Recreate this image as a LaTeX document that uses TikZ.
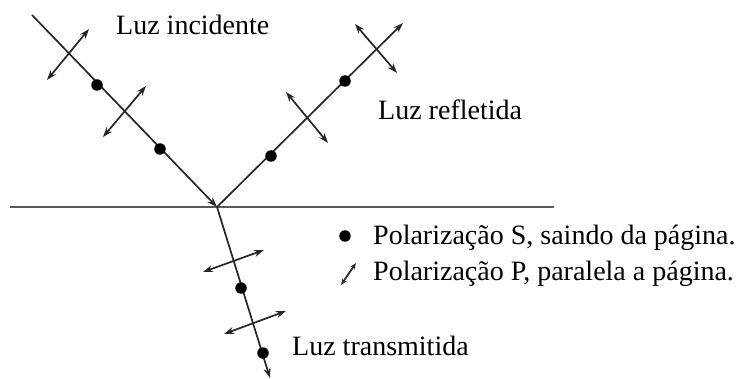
\documentclass[tikz,border=0pt]{standalone}
\usepackage{fontspec}
\setmainfont{Liberation Serif}
\usetikzlibrary{arrows.meta}
\begin{document}
\begin{tikzpicture}[x=1pt,y=-1pt,
  ray/.style={line width=1.7pt, draw=black!85},
  pol/.style={line width=1.7pt, draw=black!85, {Stealth[length=10pt,width=7pt]}-{Stealth[length=10pt,width=7pt]}},
  tip/.style={-{Stealth[length=10pt,width=7pt]}},
  sdot/.style={circle, fill=black, inner sep=0pt, minimum size=11.5pt},
  lbl/.style={font=\fontsize{28}{30}\selectfont, anchor=base west, inner sep=0pt},
  surf/.style={line width=2.4pt, draw=black!65}]
\useasboundingbox (0,0) rectangle (741,379);
% surface
\coordinate (sl) at (10,207);
\coordinate (sr) at (554,207);
\draw[surf] (sl) -- (sr);
% key points
\coordinate (O) at (217,207);
\coordinate (iA) at (32,15);
\coordinate (rB) at (403,23);
\coordinate (tB) at (270,378);
% rays
\draw[ray,tip] (iA) -- (O);
\draw[ray,tip] (O) -- (rB);
\draw[ray,tip] (O) -- (tB);
% S dots
\node[sdot] (i1) at (97,85) {};
\node[sdot] (i2) at (160,149) {};
\node[sdot] (r1) at (345,81) {};
\node[sdot] (r2) at (271,156) {};
\node[sdot] (t1) at (241,288) {};
\node[sdot] (t2) at (263,353) {};
% P arrows
\coordinate (ip1a) at (47,80);   \coordinate (ip1b) at (89,29);
\coordinate (ip2a) at (103,137); \coordinate (ip2b) at (146,86);
\coordinate (rp1a) at (355,24);  \coordinate (rp1b) at (397,73);
\coordinate (rp2a) at (286,92);  \coordinate (rp2b) at (328,143);
\coordinate (tp1a) at (203,272); \coordinate (tp1b) at (264,250);
\coordinate (tp2a) at (224,334); \coordinate (tp2b) at (286,311);
\draw[pol] (ip1a) -- (ip1b);
\draw[pol] (ip2a) -- (ip2b);
\draw[pol] (rp1a) -- (rp1b);
\draw[pol] (rp2a) -- (rp2b);
\draw[pol] (tp1a) -- (tp1b);
\draw[pol] (tp2a) -- (tp2b);
% labels
\node[lbl] (linc) at (116,35) {Luz incidente};
\node[lbl] (lref) at (378,120) {Luz refletida};
\node[lbl] (ltra) at (292,355) {Luz transmitida};
% legend
\node[sdot] (kS) at (345,236) {};
\node[lbl] (tS) at (373,245) {Polarização S, saindo da página.};
\coordinate (kPa) at (341,285);
\coordinate (kPb) at (356,263);
\draw[pol, {Stealth[length=6.5pt,width=5pt]}-{Stealth[length=6.5pt,width=5pt]}] (kPa) -- (kPb);
\node[lbl] (tP) at (373,280) {Polarização P, paralela a página.};
\end{tikzpicture}
\end{document}
